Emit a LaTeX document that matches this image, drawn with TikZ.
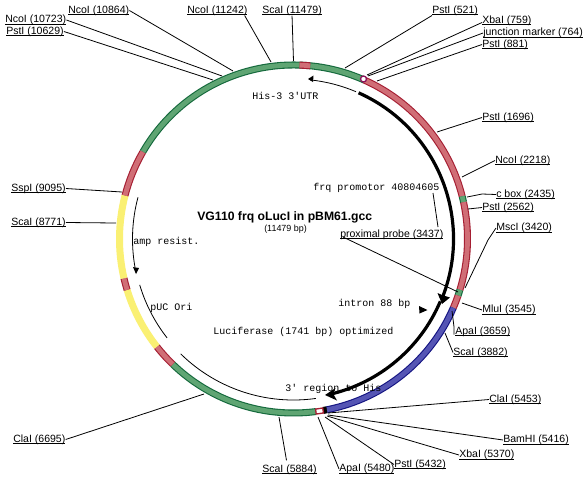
\documentclass[tikz,border=0pt]{standalone}
\usepackage{fontspec}
\setmainfont{Liberation Sans}
\setmonofont{Liberation Mono}
\newcommand{\ringcx}{293.5}
\newcommand{\ringcy}{239}
\newcommand{\ul}[1]{\setbox0\hbox{#1}\rlap{\vrule width\wd0 height -.75pt depth 1.4pt}\box0}
% segment: start angle, end angle, edge colour, mid colour
\newcommand{\ringseg}[4]{%
  \draw[#3,line width=5.25pt] ([shift={(\ringcx,\ringcy)}]-#1:174) arc[start angle=-#1,end angle=-#2,radius=174];
  \draw[#4,line width=3.6pt] ([shift={(\ringcx,\ringcy)}]-#1:174) arc[start angle=-#1,end angle=-#2,radius=174];}
\definecolor{greenedge}{RGB}{20,105,60}
\definecolor{greenmid}{RGB}{95,165,115}
\definecolor{rededge}{RGB}{165,30,50}
\definecolor{redmid}{RGB}{208,110,118}
\definecolor{blueedge}{RGB}{20,20,130}
\definecolor{bluemid}{RGB}{85,85,180}
\definecolor{ringyellow}{RGB}{250,240,115}
\tikzset{
  site/.style={font=\fontsize{7.9}{9}\selectfont,inner sep=0pt,anchor=west},
  feat/.style={font=\ttfamily\fontsize{7.5}{9}\selectfont,inner sep=0pt,anchor=west},
  lead/.style={black,line width=.6pt},
  thin arc/.style={black,line width=.6pt},
  thick arc/.style={black,line width=2.4pt},
  head/.style={fill=black,draw=none}
}
\begin{document}
\begin{tikzpicture}[x=.75pt,y=.75pt,yscale=-1]
\useasboundingbox (0,0) rectangle (588,479);
\fill[white] (0,0) rectangle (588,479);

% labels
\node[site] (n10864) at (68,10.5) {\ul{NcoI (10864)}};
\node[site] (n10723) at (5,20) {\ul{NcoI (10723)}};
\node[site] (p10629) at (6,31.5) {\ul{PstI (10629)}};
\node[site] (n11242) at (187,10.5) {\ul{NcoI (11242)}};
\node[site] (s11479) at (262,10.5) {\ul{ScaI (11479)}};
\node[site] (p521) at (432,10.5) {\ul{PstI (521)}};
\node[site] (x759) at (482,20.5) {\ul{XbaI (759)}};
\node[site] (j764) at (483,33) {\ul{junction marker (764)}};
\node[site] (p881) at (482,44.5) {\ul{PstI (881)}};
\node[site] (p1696) at (482,117.5) {\ul{PstI (1696)}};
\node[site] (n2218) at (495,160.5) {\ul{NcoI (2218)}};
\node[site] (c2435) at (496,194.5) {\ul{c box (2435)}};
\node[site] (p2562) at (482,207.5) {\ul{PstI (2562)}};
\node[site] (m3420) at (496,228) {\ul{MscI (3420)}};
\node[site] (pp3437) at (340,234.5) {\ul{proximal probe (3437)}};
\node[site] (m3545) at (482,310) {\ul{MluI (3545)}};
\node[site] (a3659) at (455,331.5) {\ul{ApaI (3659)}};
\node[site] (s3882) at (453,352.5) {\ul{ScaI (3882)}};
\node[site] (c5453) at (489,399.5) {\ul{ClaI (5453)}};
\node[site] (b5416) at (503,440) {\ul{BamHI (5416)}};
\node[site] (x5370) at (459,455) {\ul{XbaI (5370)}};
\node[site] (p5432) at (394,464.5) {\ul{PstI (5432)}};
\node[site] (a5480) at (339,469) {\ul{ApaI (5480)}};
\node[site] (s5884) at (262,469.5) {\ul{ScaI (5884)}};
\node[site] (c6695) at (13,439.5) {\ul{ClaI (6695)}};
\node[site] (s8771) at (11,222.5) {\ul{ScaI (8771)}};
\node[site] (s9095) at (11,188.5) {\ul{SspI (9095)}};

% ring attachment points
\coordinate (tn10864) at (233,71);
\coordinate (tn10723) at (222,76);
\coordinate (tp10629) at (213,80);
\coordinate (tn11242) at (271,62);
\coordinate (ts11479) at (293.5,61);
\coordinate (tp521) at (345,68);
\coordinate (tx759) at (367,75);
\coordinate (tj764) at (368,76);
\coordinate (tp881) at (377,81);
\coordinate (tp1696) at (437,132);
\coordinate (tn2218) at (462,177);
\coordinate (tc2435) at (467,197);
\coordinate (bc2435) at (482,194);
\coordinate (tp2562) at (468,209);
\coordinate (tm3420) at (465,288);
\coordinate (bm3420) at (488,240);
\coordinate (tpp) at (458,292);
\coordinate (tm3545) at (462,303);
\coordinate (ta3659) at (452,311);
\coordinate (ba3659) at (454,327);
\coordinate (ts3882) at (445,333);
\coordinate (tc5453) at (328,413);
\coordinate (tb5416) at (328,415);
\coordinate (tx5370) at (327,416);
\coordinate (tp5432) at (325,417);
\coordinate (ta5480) at (318,417);
\coordinate (ts5884) at (279,417);
\coordinate (tc6695) at (204,394);
\coordinate (ts8771) at (116,223);
\coordinate (ts9095) at (122,192);
\coordinate (pstart) at (343,237);
\coordinate (fstart) at (433,193);
\coordinate (fend) at (438,227);

% ring
\ringseg{150}{66}{greenedge}{greenmid}
\ringseg{66}{14.2}{rededge}{redmid}
\ringseg{14.2}{12.2}{greenedge}{greenmid}
\ringseg{12.2}{-17}{rededge}{redmid}
\ringseg{-17}{-19}{greenedge}{greenmid}
\ringseg{-19}{-23.3}{rededge}{redmid}
\ringseg{-23.3}{-79}{blueedge}{bluemid}
\ringseg{-79}{-80.2}{black}{black}
\ringseg{-82.6}{-134}{greenedge}{greenmid}
\ringseg{226}{218.2}{rededge}{redmid}
\ringseg{218.2}{197}{ringyellow}{ringyellow}
\ringseg{197}{193}{rededge}{redmid}
\ringseg{193}{165.5}{ringyellow}{ringyellow}
\ringseg{165.5}{150}{rededge}{redmid}
\ringseg{88}{84.5}{rededge}{redmid}
\draw[rededge,fill=white,line width=1pt] ([shift={(\ringcx,\ringcy)}]82.6:171.5) arc[start angle=82.6,end angle=80.2,radius=171.5] -- ([shift={(\ringcx,\ringcy)}]80.2:176.5) arc[start angle=80.2,end angle=82.6,radius=176.5] -- cycle;
\draw[fill=white,draw={rgb,255:red,140;green,20;blue,90},line width=1pt] (363.5,79) circle[radius=3];

% leaders
\draw[lead] (n10864.east) -- (tn10864);
\draw[lead] (n10723.east) -- (tn10723);
\draw[lead] (p10629.east) -- (tp10629);
\draw[lead] (n11242.east) ++(-3,5) -- (tn11242);
\draw[lead] (s11479.south) -- (ts11479);
\draw[lead] (p521.west) ++(0,5) -- (tp521);
\draw[lead] (x759.west) ++(0,2) -- (tx759);
\draw[lead] (j764.west) -- (tj764);
\draw[lead] (p881.west) -- (tp881);
\draw[lead] (p1696.west) -- (tp1696);
\draw[lead] (n2218.west) -- (tn2218);
\draw[lead] (c2435.west) -- (bc2435) -- (tc2435);
\draw[lead] (p2562.west) -- (tp2562);
\draw[lead] (m3420.west) -- (bm3420) -- (tm3420);
\draw[lead] (pstart) -- (tpp);
\draw[lead] (m3545.west) -- (tm3545);
\draw[lead] (a3659.west) ++(-1,3) -- (ba3659) -- (ta3659);
\draw[lead] (s3882.west) -- (ts3882);
\draw[lead] (c5453.west) -- (tc5453);
\draw[lead] (b5416.west) -- (tb5416);
\draw[lead] (x5370.west) -- (tx5370);
\draw[lead] (p5432.west) -- (tp5432);
\draw[lead] (a5480.west) -- (ta5480);
\draw[lead] (s5884.north) ++(-3,-4) -- (ts5884);
\draw[lead] (c6695.east) -- (tc6695);
\draw[lead] (s8771.east) -- (ts8771);
\draw[lead] (s9095.east) -- (ts9095);
\draw[lead] (fstart) -- (fend);

% inner arcs
\draw[thin arc] ([shift={(\ringcx,\ringcy)}]-67:160) arc[start angle=-67,end angle=-84,radius=160];
\fill[head] (308,79) -- (313.5,75.5) -- (313,82) -- cycle;
\draw[thick arc] ([shift={(\ringcx,\ringcy)}]-66:160) arc[start angle=-66,end angle=21,radius=160];
\fill[head] (442,304) -- (437.5,293) -- (442,295) -- (450,297.5) -- cycle;
\draw[thick arc] ([shift={(\ringcx,\ringcy)}]23:159.5) arc[start angle=23,end angle=77,radius=159.5];
\fill[head] (325,395) -- (335.5,388) -- (333,393.5) -- (337,400.5) -- cycle;
\fill[head] (419,306) -- (427.5,310) -- (419.5,313.5) -- cycle;
\draw[thin arc] ([shift={(\ringcx,\ringcy)}]-165:161) arc[start angle=-165,end angle=-190,radius=161];
\fill[head] (136,274) -- (133,267) -- (139,268) -- cycle;
\draw[thin arc] ([shift={(\ringcx,\ringcy)}]-196.6:160.5) arc[start angle=-196.6,end angle=-218,radius=160.5];
\draw[thin arc] ([shift={(\ringcx,\ringcy)}]-225.5:161) arc[start angle=-225.5,end angle=-278,radius=161];

% feature text
\node[feat] (t1) at (252,95.5) {His-3 3'UTR};
\node[feat] (t2) at (313,188) {frq promotor 40804605};
\node[feat] (t3) at (133,242) {amp resist.};
\node[feat] (t4) at (150,307.5) {pUC Ori};
\node[feat] (t5) at (213,331.5) {Luciferase (1741 bp) optimized};
\node[feat] (t6) at (338,303.5) {intron 88 bp};
\node[feat] (t7) at (285,389) {3' region to His};
\node[font=\bfseries\fontsize{9.15}{11}\selectfont,inner sep=0pt,anchor=west] (title) at (197,217) {VG110 frq oLucI in pBM61.gcc};
\node[font=\fontsize{6.7}{8}\selectfont,inner sep=0pt,anchor=west] (size) at (264,229) {(11479 bp)};
\end{tikzpicture}
\end{document}
